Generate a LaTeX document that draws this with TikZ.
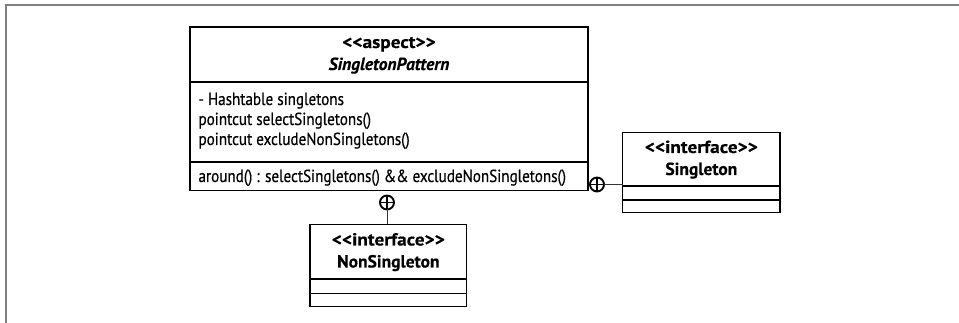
\documentclass[tikz,border=0pt]{standalone}
\usepackage{fontspec}
\setmainfont{PT Sans}[FakeStretch=0.865,FakeBold=0.5]
% heading faces: stereotypes and class names
\newfontface\stereofont{PT Sans Bold}[FakeStretch=1.1,FakeBold=0.4]
\newfontface\namefont{PT Sans Bold}[FakeStretch=1.0,FakeBold=0.4]
\newfontface\absnamefont{PT Sans Bold Italic}[FakeStretch=1.0,FakeBold=0.4]
\begin{document}
\begin{tikzpicture}[x=1pt,y=-1pt,
  compart/.style 2 args={draw=black,line width=1.3pt,minimum width=#1,minimum height=#2,
    inner sep=0pt,outer sep=0pt,anchor=north west},
  umltext/.style={inner sep=0pt,outer sep=0pt,font=\fontsize{17.5}{20}\selectfont},
  stereo/.style={umltext,anchor=base,font=\fontsize{17.5}{20}\selectfont\stereofont},
  clname/.style={umltext,anchor=base,font=\fontsize{17.5}{20}\selectfont\namefont},
  absname/.style={umltext,anchor=base,font=\fontsize{17.5}{20}\selectfont\absnamefont},
  contain/.style={circle,draw=black,line width=1.9pt,minimum size=14pt,inner sep=0pt,outer sep=0pt,
    path picture={\draw[line width=1.9pt]
      (path picture bounding box.north) -- (path picture bounding box.south)
      (path picture bounding box.west) -- (path picture bounding box.east);}},
  link/.style={draw=black!80,line width=0.9pt}]
\useasboundingbox (0,0) rectangle (959,323);

% page frame (top and left edges only)
\coordinate (frameBL) at (6,323);
\coordinate (frameTL) at (6,5.5);
\coordinate (frameTR) at (959,5.5);
\draw[draw=black!50,line width=2pt] (frameBL) -- (frameTL) -- (frameTR);

% aspect SingletonPattern
\node[compart={398}{55}] (aspHead) at (190,27) {};
\node[compart={398}{80}] (aspAttr) at (190,82) {};
\node[compart={398}{28.5}] (aspOps) at (190,162) {};
\node[stereo] (aspStereo) at (389,48) {<{}<aspect>{}>};
\node[absname] (aspName) at (389,70) {SingletonPattern};
\node[umltext,anchor=base west] (attrA) at (198.5,105) {- Hashtable singletons};
\node[umltext,anchor=base west] (attrB) at (198.5,125) {pointcut selectSingletons()};
\node[umltext,anchor=base west] (attrC) at (198.5,145) {pointcut excludeNonSingletons()};
\node[umltext,anchor=base west] (opA) at (198.5,182) {around() : selectSingletons() \&\& excludeNonSingletons()};

% interface Singleton
\node[compart={157.3}{53.7}] (sgHead) at (622.7,132.3) {};
\node[compart={157.3}{14}] (sgAttr) at (622.7,186) {};
\node[compart={157.3}{12.3}] (sgOps) at (622.7,200) {};
\node[stereo] (sgStereo) at (701.35,153) {<{}<interface>{}>};
\node[clname] (sgName) at (701.35,175) {Singleton};

% interface NonSingleton
\node[compart={156.7}{54.7}] (nsHead) at (310,224.3) {};
\node[compart={156.7}{14.3}] (nsAttr) at (310,279) {};
\node[compart={156.7}{13.4}] (nsOps) at (310,293.3) {};
\node[stereo] (nsStereo) at (388.35,245.5) {<{}<interface>{}>};
\node[clname] (nsName) at (388.35,267.5) {NonSingleton};

% nesting (containment) connectors
\node[contain] (cBot) at (387,202.5) {};
\node[contain] (cRight) at (597,184.5) {};
\draw[link] (cBot.south) -- (cBot.south |- nsHead.north);
\draw[link] (cRight.east) -- (cRight.east -| sgHead.west);
\end{tikzpicture}
\end{document}
